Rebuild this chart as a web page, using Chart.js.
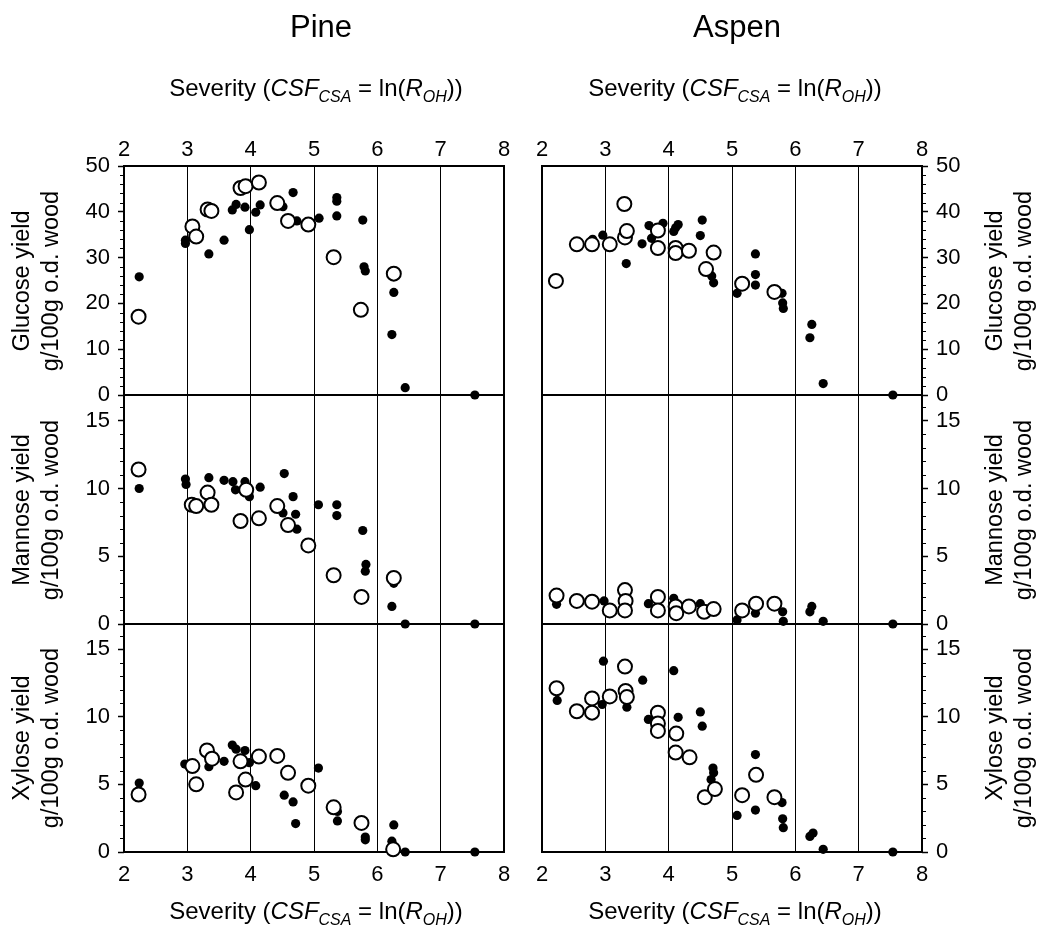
<!DOCTYPE html>
<html>
<head>
<meta charset="utf-8">
<script src="https://cdn.jsdelivr.net/npm/chart.js@4/dist/chart.umd.min.js"></script>
<style>
  html, body { margin: 0; padding: 0; background: #fff; }
  #stage { position: relative; width: 1039px; height: 941px; overflow: hidden;
           font-family: "Liberation Sans", Arial, Helvetica, sans-serif; color: #000; }
  #stage canvas { position: absolute; left: 0; top: 0; }
  .lbl { position: absolute; white-space: nowrap; }
  .col-title { font-size: 31px; line-height: 31px; transform: translateX(-50%); }
  .sev { font-size: 24px; line-height: 24px; transform: translateX(-50%); }
  .sev sub { font-size: 16px; line-height: 0; vertical-align: -6px; }
  .ytitle { font-size: 23.5px; line-height: 29px; text-align: center;
            transform: translate(-50%, -50%) rotate(-90deg); }
</style>
</head>
<body>
<div id="stage"></div>
<script>
// Axis tick values
const severityTicks = [2, 3, 4, 5, 6, 7, 8];
const glucoseTicks = [0, 10, 20, 30, 40, 50];
const sugarTicks = [0, 5, 10, 15];

// Yields, g/100g o.d. wood, as [severity, yield] pairs
const pineGlucoseFilled = [[2.24,25.8],[2.97,33.8],[2.97,33.1],[3.34,30.8],[3.58,33.8],[3.71,40.4],[3.77,41.6],[3.91,41.0],[3.98,36.1],[4.08,39.9],[4.15,41.5],[4.51,41.1],[4.67,44.2],[4.73,38.0],[5.08,38.6],[5.36,43.1],[5.36,42.3],[5.36,39.1],[5.77,38.2],[5.79,28.0],[5.81,27.1],[6.26,22.4],[6.23,13.2],[6.44,1.6],[7.54,0]];
const pineGlucoseOpen = [[2.23,17.1],[3.08,36.8],[3.14,34.6],[3.32,40.5],[3.38,40.2],[3.84,45.2],[3.92,45.6],[4.13,46.4],[4.42,41.9],[4.59,38.0],[4.91,37.2],[5.31,30.1],[5.74,18.6],[6.26,26.5]];

const aspenGlucoseFilled = [[2.80,34.0],[2.96,34.9],[3.32,34.5],[3.33,28.7],[3.58,33.0],[3.69,37.0],[3.73,34.2],[3.91,37.5],[4.08,35.7],[4.11,36.5],[4.15,37.2],[4.50,34.8],[4.53,38.2],[4.68,26.0],[4.71,24.5],[5.08,22.2],[5.37,30.8],[5.37,26.3],[5.37,24.0],[5.79,22.2],[5.80,20.1],[5.81,18.9],[6.26,15.4],[6.23,12.5],[6.44,2.5],[7.54,0]];
const aspenGlucoseOpen = [[2.22,24.9],[2.55,32.9],[2.79,32.9],[3.07,32.9],[3.30,41.7],[3.31,34.4],[3.34,35.8],[3.83,35.9],[3.83,32.1],[4.11,32.1],[4.11,31.0],[4.32,31.5],[4.59,27.5],[4.71,31.1],[5.16,24.3],[5.67,22.5]];

const pineMannoseFilled = [[2.24,10.0],[2.97,10.7],[2.98,10.3],[3.34,10.8],[3.58,10.6],[3.72,10.5],[3.76,9.9],[3.91,10.5],[3.98,9.4],[4.15,10.1],[4.53,11.1],[4.51,8.2],[4.67,9.4],[4.71,8.1],[4.73,7.0],[5.07,8.8],[5.36,8.8],[5.36,8.0],[5.77,6.9],[5.82,4.4],[5.81,3.9],[6.26,3.0],[6.23,1.3],[6.44,0],[7.54,0]];
const pineMannoseOpen = [[2.23,11.4],[3.07,8.8],[3.14,8.7],[3.32,9.7],[3.38,8.8],[3.84,7.6],[3.93,9.9],[4.13,7.8],[4.42,8.7],[4.59,7.3],[4.91,5.8],[5.31,3.6],[5.75,2.0],[6.26,3.4]];

const aspenMannoseFilled = [[2.23,1.45],[2.98,1.7],[3.68,1.5],[4.08,1.9],[4.50,1.5],[5.08,0.3],[5.37,0.8],[5.80,0.9],[5.81,0.2],[6.26,1.3],[6.23,0.9],[6.44,0.2],[7.54,0]];
const aspenMannoseOpen = [[2.23,2.1],[2.55,1.7],[2.79,1.65],[3.07,1.0],[3.31,2.5],[3.32,1.7],[3.31,1.0],[3.83,2.0],[3.83,1.0],[4.11,1.3],[4.12,0.8],[4.32,1.3],[4.56,0.9],[4.71,1.1],[5.16,1.0],[5.38,1.5],[5.67,1.5]];

const pineXyloseFilled = [[2.24,5.1],[2.96,6.5],[3.34,6.3],[3.58,6.7],[3.71,7.9],[3.77,7.6],[3.91,7.5],[3.98,6.6],[4.08,4.9],[4.53,4.2],[4.67,3.7],[4.71,2.1],[5.07,6.2],[5.37,3.0],[5.37,2.3],[5.81,1.1],[5.81,0.9],[6.26,2.0],[6.23,0.8],[6.44,0],[7.54,0]];
const pineXyloseOpen = [[2.23,4.25],[3.08,6.35],[3.14,5.0],[3.31,7.5],[3.39,6.9],[3.77,4.4],[3.84,6.7],[3.92,5.35],[4.13,7.05],[4.42,7.1],[4.59,5.85],[4.91,4.9],[5.31,3.3],[5.75,2.15],[6.25,0.2]];

const aspenXyloseFilled = [[2.24,11.2],[2.97,14.1],[2.95,10.9],[3.34,10.7],[3.59,12.7],[3.68,9.8],[4.08,13.4],[4.15,9.95],[4.50,10.35],[4.53,9.3],[4.70,6.2],[4.71,5.85],[4.67,5.35],[5.08,2.7],[5.37,7.2],[5.37,3.1],[5.79,3.65],[5.80,2.45],[5.81,1.8],[6.28,1.4],[6.23,1.15],[6.44,0.2],[7.54,0]];
const aspenXyloseOpen = [[2.23,12.1],[2.55,10.4],[2.79,11.35],[2.79,10.3],[3.07,11.5],[3.31,13.7],[3.32,11.9],[3.34,11.45],[3.83,10.3],[3.83,9.5],[3.83,8.95],[4.12,8.75],[4.11,7.35],[4.33,7.0],[4.57,4.05],[4.73,4.65],[5.16,4.2],[5.38,5.7],[5.67,4.05]];

// ---- layout ----
const PAGE_W = 1039, PAGE_H = 941;
const COL_PINE = [124, 504], COL_ASPEN = [542, 922];
const ROWS = [[166, 395], [395, 624], [624, 852]];
const Y_AXIS_W = 60, X_AXIS_H = 40;
const FONT = '"Liberation Sans", Arial, Helvetica, sans-serif';
const stage = document.getElementById('stage');

const toPts = arr => arr.map(([x, y]) => ({ x, y }));

// Panel frame (under the markers) and short minor ticks on the value axis
const framePlugin = {
  id: 'panelFrame',
  beforeDatasetsDraw(chart) {
    const { ctx, chartArea: a } = chart;
    ctx.save();
    ctx.strokeStyle = '#000';
    ctx.lineWidth = 2;
    ctx.strokeRect(a.left, a.top, a.right - a.left, a.bottom - a.top);
    ctx.restore();
  },
  afterDraw(chart, args, opts) {
    const { ctx, chartArea: a } = chart;
    const y = chart.scales.y;
    const left = y.position === 'left';
    const x0 = left ? a.left - 1 : a.right + 1;
    const dir = left ? -1 : 1;
    ctx.save();
    ctx.strokeStyle = '#000';
    ctx.lineWidth = 1;
    const n = Math.floor(y.max / opts.minorStep + 1e-9);
    for (let i = 0; i <= n; i++) {
      const v = i * opts.minorStep;
      if (Math.abs(v / opts.majorStep - Math.round(v / opts.majorStep)) < 1e-9) continue;
      const py = Math.round(y.getPixelForValue(v)) + 0.5;
      ctx.beginPath();
      ctx.moveTo(x0, py);
      ctx.lineTo(x0 + dir * 3, py);
      ctx.stroke();
    }
    ctx.restore();
  }
};

function makePanel(o) {
  const [L, R] = o.cols;
  const [T, B] = o.rows;
  const yLeft = o.ySide === 'left';
  const canvas = document.createElement('canvas');
  canvas.width = PAGE_W;
  canvas.height = PAGE_H;
  stage.appendChild(canvas);

  new Chart(canvas, {
    type: 'scatter',
    data: {
      datasets: [
        { data: toPts(o.open), pointRadius: 7, pointBackgroundColor: '#fff',
          pointBorderColor: '#000', pointBorderWidth: 2, clip: false },
        { data: toPts(o.filled), pointRadius: 4.6, pointBackgroundColor: '#000',
          pointBorderColor: '#000', pointBorderWidth: 0, clip: false }
      ]
    },
    options: {
      responsive: false,
      animation: false,
      events: [],
      layout: {
        autoPadding: false,
        padding: {
          left: L - (yLeft ? Y_AXIS_W : 0),
          right: PAGE_W - R - (yLeft ? 0 : Y_AXIS_W),
          top: T - (o.xSide === 'top' ? X_AXIS_H : 0),
          bottom: PAGE_H - B - (o.xSide === 'bottom' ? X_AXIS_H : 0)
        }
      },
      plugins: {
        legend: { display: false },
        tooltip: { enabled: false },
        panelFrame: { minorStep: o.minorStep, majorStep: o.majorStep }
      },
      scales: {
        x: {
          type: 'linear',
          position: o.xSide || 'bottom',
          min: 2, max: 8,
          afterBuildTicks: s => { s.ticks = severityTicks.map(v => ({ value: v })); },
          afterFit: s => { s.height = o.xSide ? X_AXIS_H : 0; },
          grid: { color: '#000', lineWidth: 1, drawTicks: false },
          border: { display: false },
          ticks: {
            display: !!o.xSide,
            padding: o.xSide === 'top' ? 3 : 10,
            color: '#000',
            font: { family: FONT, size: 22 }
          }
        },
        y: {
          type: 'linear',
          position: o.ySide,
          min: 0, max: o.yMax,
          afterBuildTicks: s => { s.ticks = o.yTicks.map(v => ({ value: v })); },
          afterFit: s => { s.width = Y_AXIS_W; },
          grid: { drawOnChartArea: false, drawTicks: true, tickLength: 6,
                  tickColor: '#000', tickWidth: 1.5 },
          border: { display: false },
          ticks: { padding: 8, color: '#000', font: { family: FONT, size: 22 } }
        }
      }
    },
    plugins: [framePlugin]
  });
}

const panels = [
  { cols: COL_PINE,  rows: ROWS[0], ySide: 'left',  xSide: 'top',    yMax: 50,    yTicks: glucoseTicks, majorStep: 10, minorStep: 2, filled: pineGlucoseFilled,  open: pineGlucoseOpen },
  { cols: COL_ASPEN, rows: ROWS[0], ySide: 'right', xSide: 'top',    yMax: 50,    yTicks: glucoseTicks, majorStep: 10, minorStep: 2, filled: aspenGlucoseFilled, open: aspenGlucoseOpen },
  { cols: COL_PINE,  rows: ROWS[1], ySide: 'left',  xSide: null,     yMax: 16.9,  yTicks: sugarTicks,   majorStep: 5,  minorStep: 1, filled: pineMannoseFilled,  open: pineMannoseOpen },
  { cols: COL_ASPEN, rows: ROWS[1], ySide: 'right', xSide: null,     yMax: 16.9,  yTicks: sugarTicks,   majorStep: 5,  minorStep: 1, filled: aspenMannoseFilled, open: aspenMannoseOpen },
  { cols: COL_PINE,  rows: ROWS[2], ySide: 'left',  xSide: 'bottom', yMax: 16.85, yTicks: sugarTicks,   majorStep: 5,  minorStep: 1, filled: pineXyloseFilled,   open: pineXyloseOpen },
  { cols: COL_ASPEN, rows: ROWS[2], ySide: 'right', xSide: 'bottom', yMax: 16.85, yTicks: sugarTicks,   majorStep: 5,  minorStep: 1, filled: aspenXyloseFilled,  open: aspenXyloseOpen }
];
panels.forEach(makePanel);

// ---- text labels ----
function addLabel(cls, html, left, top) {
  const d = document.createElement('div');
  d.className = 'lbl ' + cls;
  d.innerHTML = html;
  d.style.left = left + 'px';
  d.style.top = top + 'px';
  stage.appendChild(d);
}

const severityTitle = 'Severity (<i>CSF</i><sub><i>CSA</i></sub> = ln(<i>R</i><sub><i>OH</i></sub>))';
addLabel('col-title', 'Pine', 321, 11);
addLabel('col-title', 'Aspen', 737, 11);
addLabel('sev', severityTitle, 316, 76);
addLabel('sev', severityTitle, 735, 76);
addLabel('sev', severityTitle, 316, 899);
addLabel('sev', severityTitle, 735, 899);

const yTitles = [
  ['Glucose yield', ROWS[0]],
  ['Mannose yield', ROWS[1]],
  ['Xylose yield', ROWS[2]]
];
yTitles.forEach(([name, [t, b]]) => {
  const mid = (t + b) / 2;
  const html = name + '<br>g/100g o.d. wood';
  addLabel('ytitle', html, 36, mid);
  addLabel('ytitle', html, 1009, mid);
});
</script>
</body>
</html>
